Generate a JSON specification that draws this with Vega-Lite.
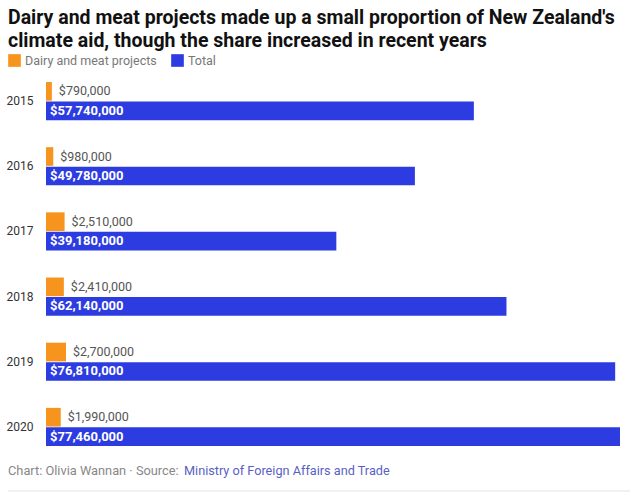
{
  "$schema": "https://vega.github.io/schema/vega-lite/v6.json",
  "autosize": "none",
  "width": 574,
  "height": 364,
  "padding": {"left": 46, "top": 82, "right": 17, "bottom": 56},
  "background": "white",
  "config": {"font": "Roboto", "view": {"stroke": null}},
  "title": {
    "text": ["Dairy and meat projects made up a small proportion of New Zealand's", "climate aid, though the share increased in recent years"],
    "anchor": "start",
    "frame": "group",
    "dx": -38,
    "offset": 3,
    "fontSize": 19.5,
    "fontWeight": "bold",
    "color": "#111111",
    "lineHeight": 23
  },
  "data": {"values": [
      {"year": "2015", "series": "Dairy and meat projects", "value": 790000},
      {"year": "2015", "series": "Total", "value": 57740000},
      {"year": "2016", "series": "Dairy and meat projects", "value": 980000},
      {"year": "2016", "series": "Total", "value": 49780000},
      {"year": "2017", "series": "Dairy and meat projects", "value": 2510000},
      {"year": "2017", "series": "Total", "value": 39180000},
      {"year": "2018", "series": "Dairy and meat projects", "value": 2410000},
      {"year": "2018", "series": "Total", "value": 62140000},
      {"year": "2019", "series": "Dairy and meat projects", "value": 2700000},
      {"year": "2019", "series": "Total", "value": 76810000},
      {"year": "2020", "series": "Dairy and meat projects", "value": 1990000},
      {"year": "2020", "series": "Total", "value": 77460000}
  ]},
  "layer": [
    {
      "mark": {"type": "bar"},
      "encoding": {
        "y": {"field": "year", "type": "nominal", "sort": null,
          "scale": {"paddingInner": 0.415, "paddingOuter": 0},
          "axis": {"title": null, "domain": false, "ticks": false, "labelPadding": 13, "labelFontSize": 12, "labelColor": "#333333"}},
        "yOffset": {"field": "series", "type": "nominal", "sort": ["Dairy and meat projects", "Total"], "scale": {"paddingInner": 0.04}},
        "x": {"field": "value", "type": "quantitative", "scale": {"domain": [0, 77460000], "nice": false, "zero": true}, "axis": null},
        "color": {"field": "series", "type": "nominal",
          "scale": {"domain": ["Dairy and meat projects", "Total"], "range": ["#f7941d", "#2d3ce0"]},
          "legend": {"title": null, "orient": "none", "legendX": -38, "legendY": -28, "direction": "horizontal",
            "symbolType": "square", "symbolSize": 160, "symbolStrokeWidth": 0, "labelFontSize": 12.5, "labelColor": "#777777", "columnPadding": 14, "labelOffset": 4}}
      }
    },
    {
      "transform": [{"filter": "datum.series !== 'Total'"}],
      "mark": {"type": "text", "align": "left", "baseline": "middle", "dx": 7, "fontSize": 12.5, "color": "#555555"},
      "encoding": {
        "y": {"field": "year", "type": "nominal", "sort": null},
        "yOffset": {"field": "series", "type": "nominal", "sort": ["Dairy and meat projects", "Total"]},
        "x": {"field": "value", "type": "quantitative"},
        "text": {"field": "value", "type": "quantitative", "format": "$,.0f"}
      }
    },
    {
      "transform": [{"filter": "datum.series === 'Total'"}],
      "mark": {"type": "text", "align": "left", "baseline": "middle", "dx": 4, "fontSize": 13, "fontWeight": "bold", "color": "white"},
      "encoding": {
        "y": {"field": "year", "type": "nominal", "sort": null},
        "yOffset": {"field": "series", "type": "nominal", "sort": ["Dairy and meat projects", "Total"]},
        "x": {"value": 0},
        "text": {"field": "value", "type": "quantitative", "format": "$,.0f"}
      }
    },
    {
      "data": {"values": [{"part": "Chart: Olivia Wannan · Source: "}]},
      "mark": {"type": "text", "align": "left", "baseline": "middle", "fontSize": 12.8, "color": "#888888"},
      "encoding": {
        "x": {"value": -38},
        "y": {"value": 389},
        "text": {"field": "part", "type": "nominal"}
      }
    },
    {
      "data": {"values": [{"part": "Ministry of Foreign Affairs and Trade"}]},
      "mark": {"type": "text", "align": "left", "baseline": "middle", "fontSize": 12.7, "color": "#5a5fc4"},
      "encoding": {
        "x": {"value": 138},
        "y": {"value": 389},
        "text": {"field": "part", "type": "nominal"}
      }
    },
    {
      "data": {"values": [{"line": "footer"}]},
      "mark": {"type": "rule", "color": "#e3e3e3", "strokeWidth": 1},
      "encoding": {
        "x": {"value": -38},
        "x2": {"value": 584},
        "y": {"value": 409}
      }
    }
  ]
}
